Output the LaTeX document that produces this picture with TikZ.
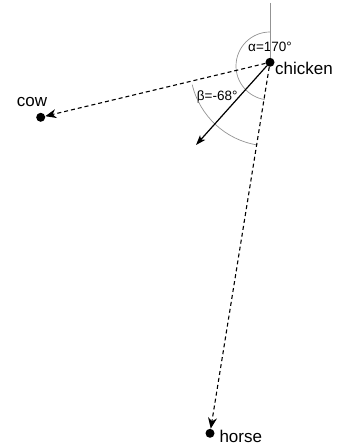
\documentclass[tikz,border=0pt]{standalone}
\usepackage{fontspec}
\setmainfont{Liberation Sans}
\usetikzlibrary{arrows.meta}
\begin{document}
\begin{tikzpicture}[x=1pt,y=1pt,
  dot/.style={circle,fill=black,inner sep=0pt,minimum size=9pt},
  namelab/.style={font=\fontsize{17}{20}\selectfont,inner sep=0pt,anchor=base west},
  anglab/.style={font=\fontsize{13.5}{16}\selectfont,inner sep=0pt,anchor=base west},
  guide/.style={draw=gray!85,line width=0.7pt},
  dasharrow/.style={draw=black,dash pattern=on 4pt off 3pt,line width=1.1pt,-{Stealth[length=11pt,width=9pt,inset=3.5pt]}},
  solidarrow/.style={draw=black,line width=1.2pt,-{Stealth[length=10pt,width=7pt,inset=2.5pt]}}
]
\path[use as bounding box] (0,0) rectangle (337,446);
% dots
\node[dot] (chicken) at (270,383.7) {};
\node[dot] (cow) at (40.7,328.7) {};
\node[dot] (horse) at (210,12.7) {};
% labels
\node[namelab] (chickenlab) at (275,371) {chicken};
\node[namelab] (cowlab) at (16.7,339.3) {cow};
\node[namelab] (horselab) at (219.3,3.3) {horse};
\node[anglab] (alphalab) at (248,394) {α=170°};
\node[anglab] (betalab) at (196.7,345) {β=-68°};
% helper coordinates
\coordinate (north) at (270,443);
\coordinate (actr) at (270,380);
\coordinate (tip) at (196,301);
% guide line and arcs
\draw[guide] (north) -- (chicken);
\draw[guide] (actr) ++(90:34) arc[start angle=90,end angle=260.8,radius=34];
\draw[guide] (actr) ++(193.5:80) arc[start angle=193.5,end angle=260.8,radius=80];
% connectors
\draw[dasharrow] (chicken) -- (cow);
\draw[dasharrow] (chicken) -- (horse);
\draw[solidarrow] (chicken) -- (tip);
\end{tikzpicture}
\end{document}
